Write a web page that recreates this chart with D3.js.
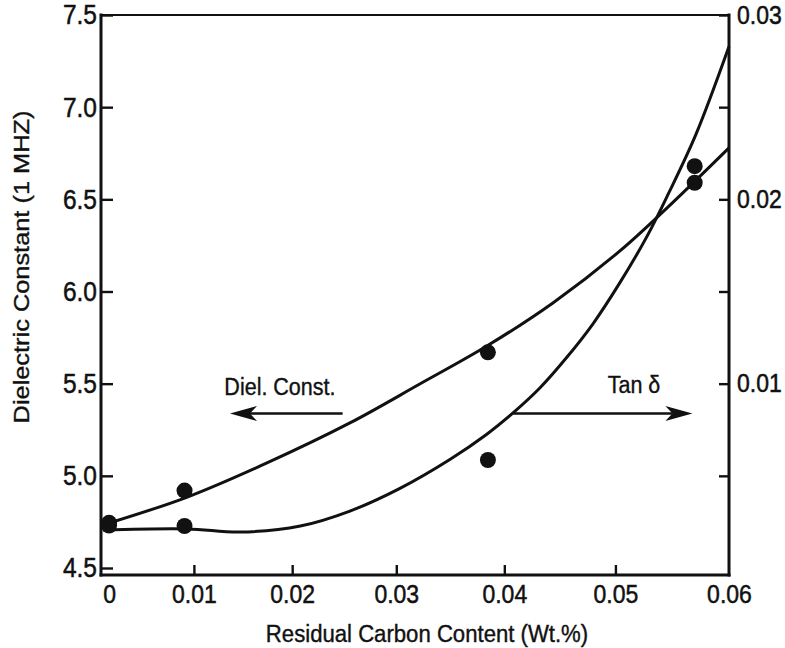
<!DOCTYPE html>
<html><head><meta charset="utf-8">
<script src="https://cdn.jsdelivr.net/npm/d3@7"></script>
<style>
body{margin:0;background:#fff}
text{font-family:"Liberation Sans",Arial,Helvetica,sans-serif;fill:#111}
</style>
</head><body><svg id="c" width="785" height="648"></svg>
<script>
// ---------- data ----------
const xTicks = [0, 0.01, 0.02, 0.03, 0.04, 0.05, 0.06];
const yLeftTicks = [4.5, 5.0, 5.5, 6.0, 6.5, 7.0, 7.5];
const yRightTicks = [0.005, 0.01, 0.015, 0.02, 0.025, 0.03];
const yRightLabels = [0.01, 0.02, 0.03];

// measured points
const dielX = [0, 0.009, 0.0385, 0.057];
const dielY = [4.745, 4.92, 5.67, 6.59];
const tanX = [0, 0.009, 0.0385, 0.057];
const tanY = [0.0023, 0.00228, 0.00586, 0.0218];

// fitted curves
const dielCurveX = [0, 0.0093, 0.0175, 0.0256, 0.0322, 0.0384, 0.0444, 0.0504, 0.0546, 0.06];
const dielCurveY = [4.744, 4.885, 5.070, 5.287, 5.498, 5.704, 5.938, 6.220, 6.455, 6.779];
const tanCurveX = [-0.0009, 0.0093, 0.0148, 0.0208, 0.0256, 0.0303, 0.0350, 0.0384, 0.0409, 0.0432, 0.0456, 0.0480, 0.0504, 0.0528, 0.0547, 0.0571, 0.06];
const tanCurveY = [0.00206, 0.00212, 0.00195, 0.00228, 0.00309, 0.00431, 0.00589, 0.00726, 0.00847, 0.00975, 0.01139, 0.01325, 0.01548, 0.01799, 0.02032, 0.02351, 0.02829];

// ---------- layout ----------
const frame = {left: 101, top: 15, right: 729, bottom: 575};
const tickBottomY = 568;
const ink = "#111";
const textStretch = 1.13;
const fontFam = '"Liberation Sans",Arial,Helvetica,sans-serif';

const svg = d3.select("#c");

const x = d3.scalePow().exponent(1.11).domain([-0.0012, 0.06]).range([frame.left, frame.right]);
const yL = d3.scaleLinear().domain([4.5, 7.5]).range([tickBottomY, frame.top]);
const yR = d3.scaleLinear().domain([0, 0.03]).range([tickBottomY, frame.top]);

function stretch(sel, sx, sy) {
  sel.each(function() {
    const t = d3.select(this);
    const px = +t.attr("x") || 0, py = +t.attr("y") || 0;
    t.attr("x", 0).attr("y", 0).attr("transform", `translate(${px},${py}) scale(${sx},${sy})`);
  });
}

// frame
const fr = svg.append("g").attr("stroke", ink).attr("stroke-linecap", "square");
fr.append("line").attr("x1", frame.left).attr("x2", frame.right).attr("y1", frame.top).attr("y2", frame.top).attr("stroke-width", 2.2);
fr.append("line").attr("x1", frame.left).attr("x2", frame.right).attr("y1", frame.bottom).attr("y2", frame.bottom).attr("stroke-width", 3);
fr.append("line").attr("x1", frame.left).attr("x2", frame.left).attr("y1", frame.top).attr("y2", frame.bottom).attr("stroke-width", 3);
fr.append("line").attr("x1", frame.right).attr("x2", frame.right).attr("y1", frame.top).attr("y2", frame.bottom).attr("stroke-width", 3);

function styleAxis(size) {
  return g => {
    g.select(".domain").remove();
    g.selectAll(".tick line").attr("stroke", ink).attr("stroke-width", 2.4);
    g.selectAll(".tick text").attr("font-size", size).attr("fill", ink)
      .attr("stroke", ink).attr("stroke-width", 0.45)
      .style("font-family", fontFam)
      .call(stretch, 1, textStretch);
  };
}

// bottom axis
svg.append("g").attr("transform", `translate(0,${frame.bottom})`)
  .call(d3.axisBottom(x).tickValues(xTicks).tickSize(-10).tickPadding(10)
    .tickFormat(d => d === 0 ? "0" : d3.format(".2f")(d)))
  .call(styleAxis(23))
  .call(g => g.selectAll(".tick").filter(d => d === 0 || d === 0.06).select("line").remove());

// left axis
svg.append("g").attr("transform", `translate(${frame.left},0)`)
  .call(d3.axisLeft(yL).tickValues(yLeftTicks).tickSize(-12).tickPadding(4)
    .tickFormat(d3.format(".1f")))
  .call(styleAxis(24.5));

// right axis
svg.append("g").attr("transform", `translate(${frame.right},0)`)
  .call(d3.axisRight(yR).tickValues(yRightTicks).tickSize(-10).tickPadding(8)
    .tickFormat(d => yRightLabels.some(v => Math.abs(v - d) < 1e-9) ? d3.format(".2f")(d) : ""))
  .call(styleAxis(23));

// axis titles
svg.append("text")
  .attr("x", (frame.left + frame.right) / 2 + 12).attr("y", 642)
  .attr("text-anchor", "middle").attr("font-size", 21.5)
  .attr("stroke", ink).attr("stroke-width", 0.35)
  .text("Residual Carbon Content (Wt.%)")
  .call(stretch, 1.03, textStretch);

svg.append("text")
  .attr("transform", `translate(29,267) rotate(-90) scale(1.18,1.02)`)
  .attr("text-anchor", "middle").attr("font-size", 21.5)
  .attr("stroke", ink).attr("stroke-width", 0.35)
  .text("Dielectric Constant (1 MHZ)");

// curves
const lineL = d3.line().x(d => x(d[0])).y(d => yL(d[1])).curve(d3.curveCatmullRom.alpha(0.5));
const lineR = d3.line().x(d => x(d[0])).y(d => yR(d[1])).curve(d3.curveCatmullRom.alpha(0.5));

svg.append("path").datum(dielCurveX.map((v, i) => [v, dielCurveY[i]]))
  .attr("d", lineL).attr("fill", "none").attr("stroke", ink).attr("stroke-width", 3);
svg.append("path").datum(tanCurveX.map((v, i) => [v, tanCurveY[i]]))
  .attr("d", lineR).attr("fill", "none").attr("stroke", ink).attr("stroke-width", 3);

// points
svg.append("g").selectAll("circle").data(dielX.map((v, i) => [v, dielY[i]])).join("circle")
  .attr("cx", d => x(d[0])).attr("cy", d => yL(d[1])).attr("r", 8).attr("fill", ink);
svg.append("g").selectAll("circle").data(tanX.map((v, i) => [v, tanY[i]])).join("circle")
  .attr("cx", d => x(d[0])).attr("cy", d => yR(d[1])).attr("r", 8).attr("fill", ink);

// annotations
function arrow(xFrom, xTo, yv) {
  const x1 = x(xFrom), x2 = x(xTo), yy = yL(yv);
  const dir = Math.sign(x2 - x1);
  const headLen = 27, half = 7.5, notch = 7;
  const base = x2 - dir * headLen;
  svg.append("line").attr("x1", x1).attr("y1", yy).attr("x2", base + dir * notch).attr("y2", yy)
    .attr("stroke", ink).attr("stroke-width", 2.6);
  svg.append("path")
    .attr("d", `M${x2},${yy} L${base},${yy - half} L${base + dir * notch},${yy} L${base},${yy + half} Z`)
    .attr("fill", ink);
}
arrow(0.0249, 0.01376, 5.338);
arrow(0.0408, 0.0568, 5.338);

svg.append("text").attr("x", x(0.01879)).attr("y", yL(5.44))
  .attr("text-anchor", "middle").attr("font-size", 21.5)
  .attr("stroke", ink).attr("stroke-width", 0.35)
  .text("Diel. Const.").call(stretch, 1, textStretch);
svg.append("text").attr("x", x(0.05165)).attr("y", yL(5.449))
  .attr("text-anchor", "middle").attr("font-size", 21.5)
  .attr("stroke", ink).attr("stroke-width", 0.35)
  .text("Tan δ").call(stretch, 1, textStretch);
</script></body></html>
